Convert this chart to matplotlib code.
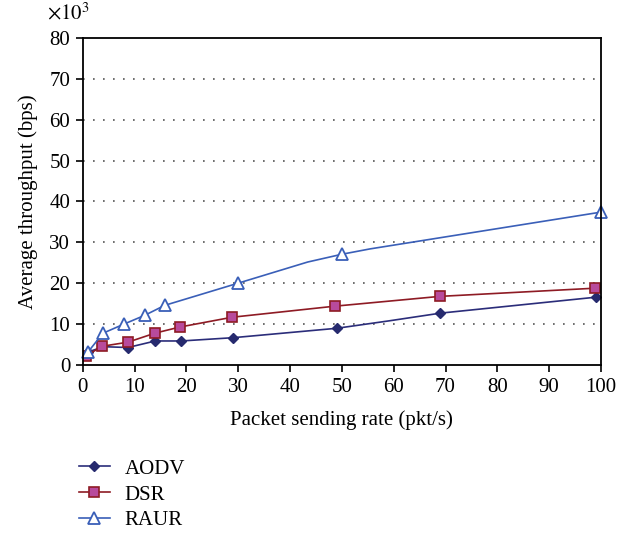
import numpy as np
import matplotlib.pyplot as plt

# ============================================================
# DATA (throughput in x10^3 bps)
# ============================================================

aodv_x = [1, 4, 8.7, 14, 19, 29, 49, 59, 69, 99]
aodv_y = [3.2, 4.5, 4.3, 5.9, 5.9, 6.7, 9.0, 10.8, 12.7, 16.6]
aodv_marks = [0, 2, 3, 4, 5, 6, 8, 9]

dsr_x = [0.6, 3.7, 8.7, 13.9, 18.7, 28.8, 48.6, 68.9, 98.8]
dsr_y = [2.2, 4.6, 5.6, 7.8, 9.3, 11.7, 14.4, 16.8, 18.8]

raur_x = [1, 3.9, 7.9, 12, 15.8, 29.9, 43.4, 50, 55.4, 100]
raur_y = [3.2, 7.8, 10.0, 12.2, 14.6, 20.0, 25.2, 27.1, 28.4, 37.4]
raur_marks = [0, 1, 2, 3, 4, 5, 7, 9]

X_TICKS = np.arange(0, 101, 10)
Y_TICKS = np.arange(0, 81, 10)

# ============================================================
# PLOT
# ============================================================

plt.rcParams['font.family'] = ['Liberation Serif', 'DejaVu Serif']
plt.rcParams['mathtext.fontset'] = 'stix'

FS = 15

fig = plt.figure(figsize=(6.32, 5.33), dpi=100)
ax = fig.add_axes([0.131, 0.315, 0.82, 0.614])

ax.plot(aodv_x, aodv_y, color='#2b2d7a', lw=1.2, marker='D', ms=5.5,
        markevery=aodv_marks, mfc='#262a6e', mec='#262a6e', label='AODV')
ax.plot(dsr_x, dsr_y, color='#8e1b24', lw=1.2, marker='s', ms=7,
        mfc='#b84a9c', mec='#8e1b24', mew=1.2, label='DSR')
ax.plot(raur_x, raur_y, color='#3a5fb8', lw=1.2, marker='^', ms=8.5,
        markevery=raur_marks, mfc='white', mec='#3a5fb8', mew=1.3,
        label='RAUR', clip_on=False)

for yv in Y_TICKS[1:-1]:
    ax.axhline(yv, color='#555555', lw=1.2, ls=(0, (1, 5)), zorder=0)

ax.set_xlim(0, 100)
ax.set_ylim(0, 80)
ax.set_xticks(X_TICKS)
ax.set_yticks(Y_TICKS)
ax.tick_params(direction='out', length=5, width=1.2, labelsize=FS, pad=4)
for s in ax.spines.values():
    s.set_linewidth(1.3)

ax.set_xlabel('Packet sending rate (pkt/s)', fontsize=FS, labelpad=10)
ax.set_ylabel('Average throughput (bps)', fontsize=FS, labelpad=8)

fig.text(0.075, 0.975, r'$\times 10^3$', fontsize=FS, ha='left', va='center')

fig.legend(loc='upper left', bbox_to_anchor=(0.108, 0.158), frameon=False,
           fontsize=FS, handlelength=1.5, labelspacing=0.3, borderpad=0,
           handletextpad=0.7)

fig.savefig('out.png', dpi=100)
